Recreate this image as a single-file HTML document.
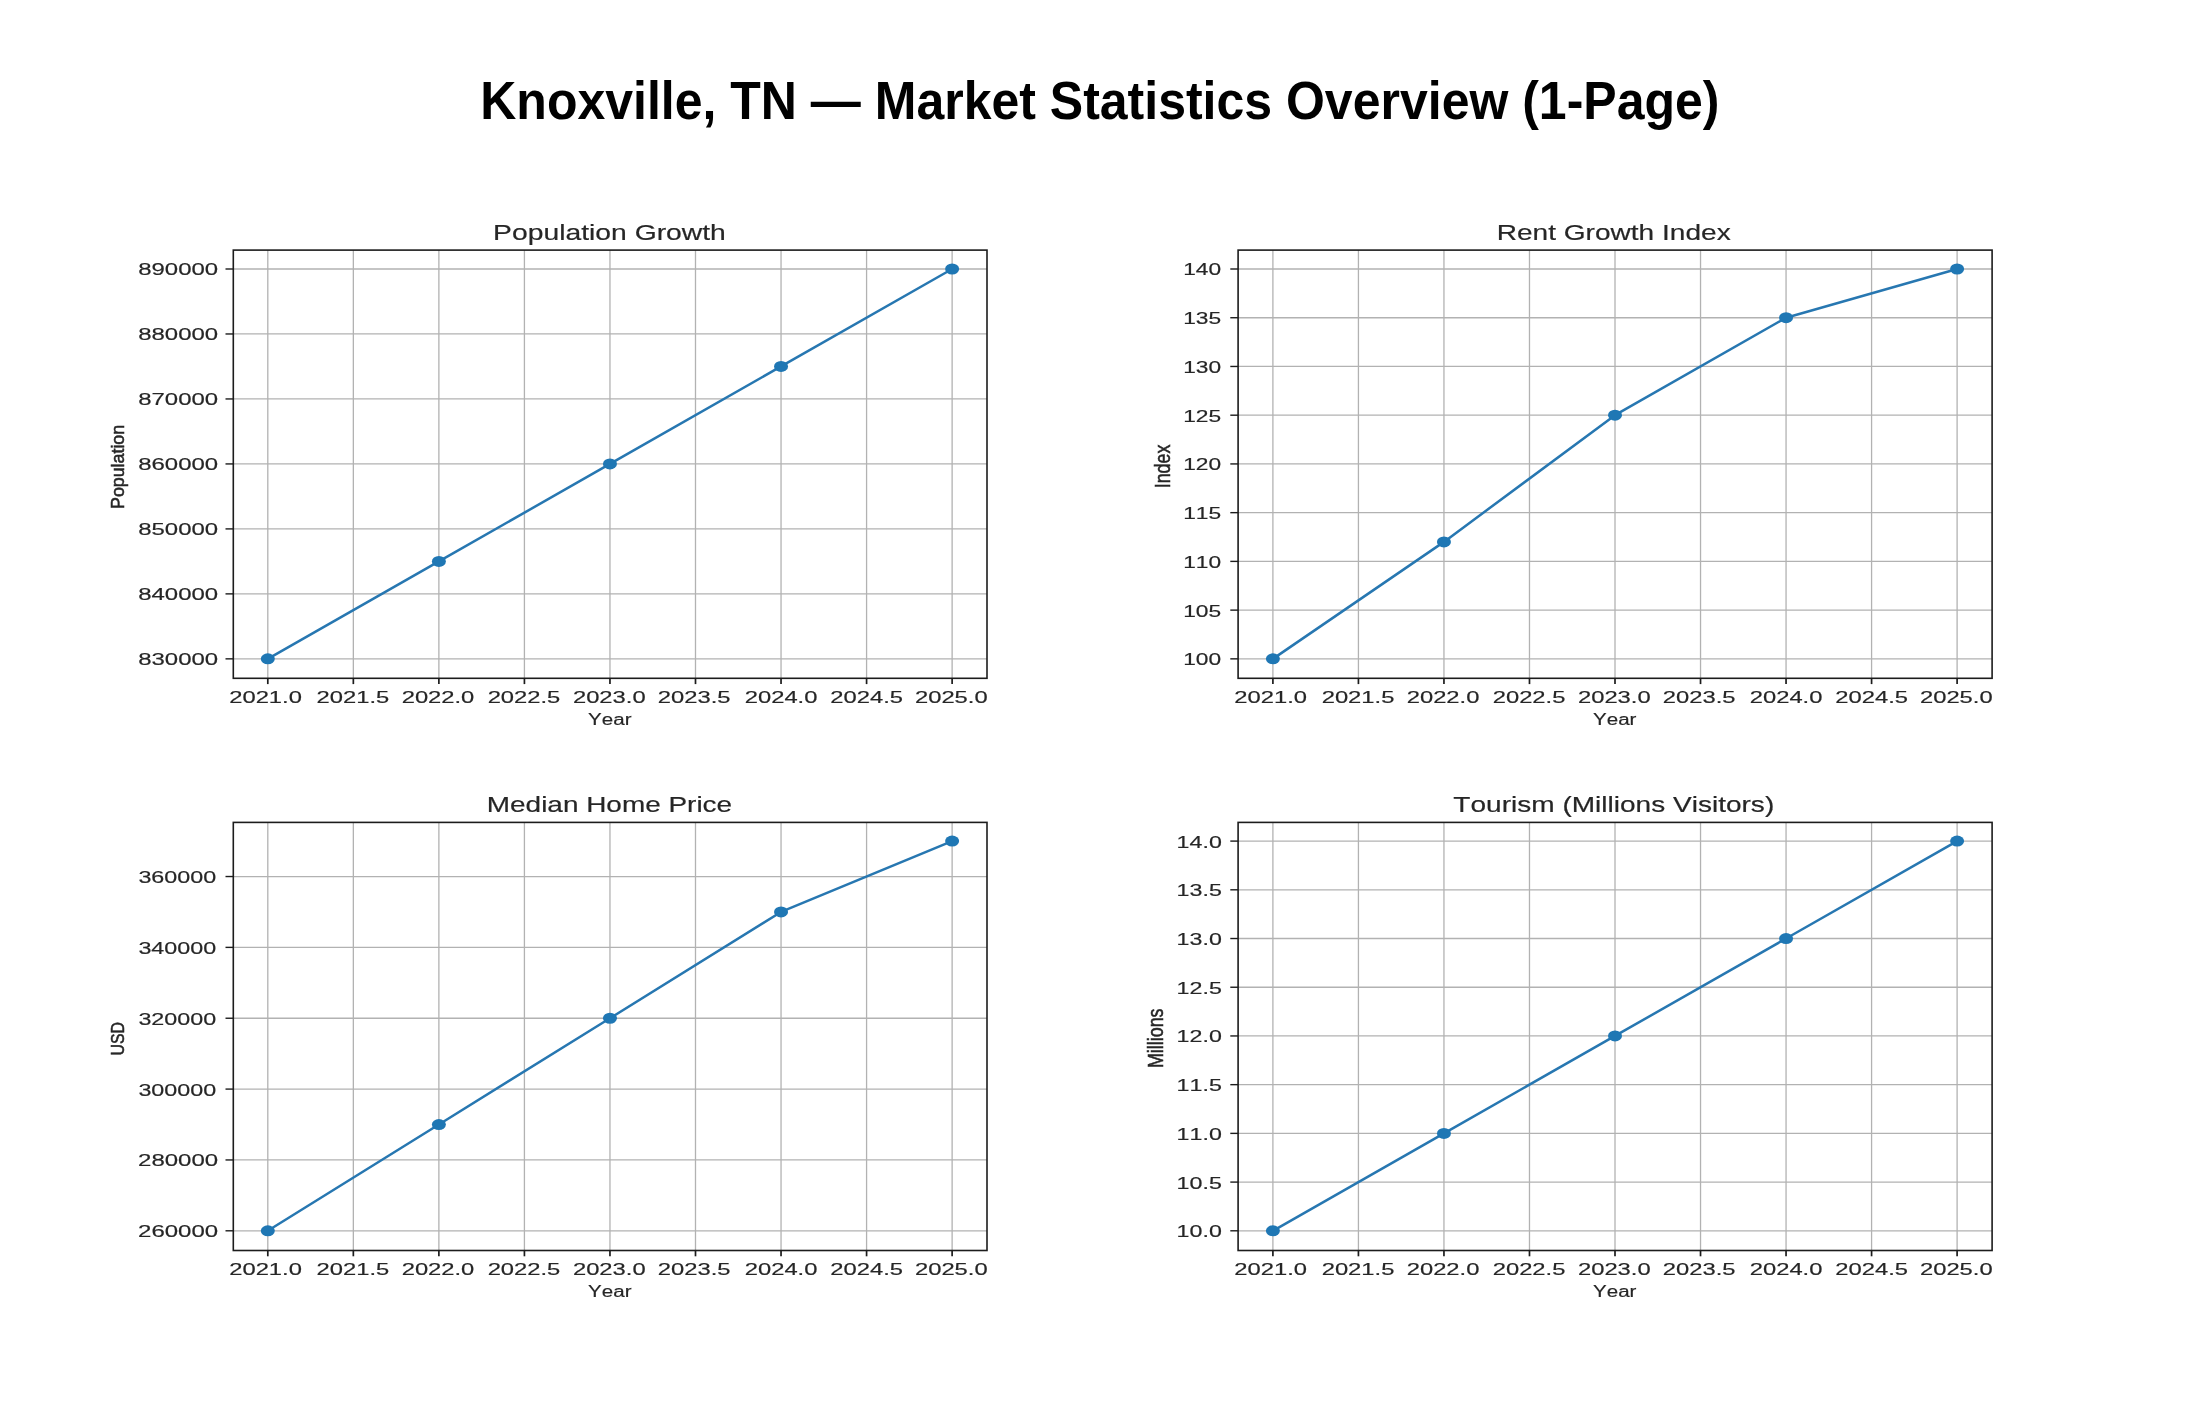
<!DOCTYPE html>
<html><head><meta charset="utf-8"><style>
html,body{margin:0;padding:0;background:#fff;width:2200px;height:1410px;overflow:hidden}
svg{position:absolute;left:0;top:0;display:block;will-change:transform}
text{font-family:"Liberation Sans",sans-serif;font-kerning:none}
</style></head><body>
<svg width="2200" height="1410" viewBox="0 0 2200 1410">
<rect width="2200" height="1410" fill="#fff"/>
<line x1="267.80" y1="250.10" x2="267.80" y2="678.30" stroke="#b2b2b2" stroke-width="1.3"/>
<line x1="353.34" y1="250.10" x2="353.34" y2="678.30" stroke="#b2b2b2" stroke-width="1.3"/>
<line x1="438.88" y1="250.10" x2="438.88" y2="678.30" stroke="#b2b2b2" stroke-width="1.3"/>
<line x1="524.42" y1="250.10" x2="524.42" y2="678.30" stroke="#b2b2b2" stroke-width="1.3"/>
<line x1="609.96" y1="250.10" x2="609.96" y2="678.30" stroke="#b2b2b2" stroke-width="1.3"/>
<line x1="695.50" y1="250.10" x2="695.50" y2="678.30" stroke="#b2b2b2" stroke-width="1.3"/>
<line x1="781.04" y1="250.10" x2="781.04" y2="678.30" stroke="#b2b2b2" stroke-width="1.3"/>
<line x1="866.58" y1="250.10" x2="866.58" y2="678.30" stroke="#b2b2b2" stroke-width="1.3"/>
<line x1="952.12" y1="250.10" x2="952.12" y2="678.30" stroke="#b2b2b2" stroke-width="1.3"/>
<line x1="233.30" y1="658.85" x2="987.00" y2="658.85" stroke="#b2b2b2" stroke-width="1.3"/>
<line x1="233.30" y1="593.88" x2="987.00" y2="593.88" stroke="#b2b2b2" stroke-width="1.3"/>
<line x1="233.30" y1="528.90" x2="987.00" y2="528.90" stroke="#b2b2b2" stroke-width="1.3"/>
<line x1="233.30" y1="463.93" x2="987.00" y2="463.93" stroke="#b2b2b2" stroke-width="1.3"/>
<line x1="233.30" y1="398.95" x2="987.00" y2="398.95" stroke="#b2b2b2" stroke-width="1.3"/>
<line x1="233.30" y1="333.97" x2="987.00" y2="333.97" stroke="#b2b2b2" stroke-width="1.3"/>
<line x1="233.30" y1="269.00" x2="987.00" y2="269.00" stroke="#b2b2b2" stroke-width="1.3"/>
<polyline points="267.80,658.85 438.88,561.39 609.96,463.93 781.04,366.46 952.12,269.00" fill="none" stroke="#2777b1" stroke-width="2.5" stroke-linejoin="round"/>
<ellipse cx="267.80" cy="658.85" rx="7.0" ry="5.5" fill="#1f77b4"/>
<ellipse cx="438.88" cy="561.39" rx="7.0" ry="5.5" fill="#1f77b4"/>
<ellipse cx="609.96" cy="463.93" rx="7.0" ry="5.5" fill="#1f77b4"/>
<ellipse cx="781.04" cy="366.46" rx="7.0" ry="5.5" fill="#1f77b4"/>
<ellipse cx="952.12" cy="269.00" rx="7.0" ry="5.5" fill="#1f77b4"/>
<rect x="233.30" y="250.10" width="753.70" height="428.20" fill="none" stroke="#1c1c1c" stroke-width="1.6"/>
<line x1="267.80" y1="678.30" x2="267.80" y2="684.10" stroke="#1c1c1c" stroke-width="1.7"/>
<line x1="353.34" y1="678.30" x2="353.34" y2="684.10" stroke="#1c1c1c" stroke-width="1.7"/>
<line x1="438.88" y1="678.30" x2="438.88" y2="684.10" stroke="#1c1c1c" stroke-width="1.7"/>
<line x1="524.42" y1="678.30" x2="524.42" y2="684.10" stroke="#1c1c1c" stroke-width="1.7"/>
<line x1="609.96" y1="678.30" x2="609.96" y2="684.10" stroke="#1c1c1c" stroke-width="1.7"/>
<line x1="695.50" y1="678.30" x2="695.50" y2="684.10" stroke="#1c1c1c" stroke-width="1.7"/>
<line x1="781.04" y1="678.30" x2="781.04" y2="684.10" stroke="#1c1c1c" stroke-width="1.7"/>
<line x1="866.58" y1="678.30" x2="866.58" y2="684.10" stroke="#1c1c1c" stroke-width="1.7"/>
<line x1="952.12" y1="678.30" x2="952.12" y2="684.10" stroke="#1c1c1c" stroke-width="1.7"/>
<line x1="225.50" y1="658.85" x2="233.30" y2="658.85" stroke="#1c1c1c" stroke-width="1.4"/>
<line x1="225.50" y1="593.88" x2="233.30" y2="593.88" stroke="#1c1c1c" stroke-width="1.4"/>
<line x1="225.50" y1="528.90" x2="233.30" y2="528.90" stroke="#1c1c1c" stroke-width="1.4"/>
<line x1="225.50" y1="463.93" x2="233.30" y2="463.93" stroke="#1c1c1c" stroke-width="1.4"/>
<line x1="225.50" y1="398.95" x2="233.30" y2="398.95" stroke="#1c1c1c" stroke-width="1.4"/>
<line x1="225.50" y1="333.97" x2="233.30" y2="333.97" stroke="#1c1c1c" stroke-width="1.4"/>
<line x1="225.50" y1="269.00" x2="233.30" y2="269.00" stroke="#1c1c1c" stroke-width="1.4"/>
<line x1="1272.90" y1="250.10" x2="1272.90" y2="678.30" stroke="#b2b2b2" stroke-width="1.3"/>
<line x1="1358.43" y1="250.10" x2="1358.43" y2="678.30" stroke="#b2b2b2" stroke-width="1.3"/>
<line x1="1443.95" y1="250.10" x2="1443.95" y2="678.30" stroke="#b2b2b2" stroke-width="1.3"/>
<line x1="1529.48" y1="250.10" x2="1529.48" y2="678.30" stroke="#b2b2b2" stroke-width="1.3"/>
<line x1="1615.00" y1="250.10" x2="1615.00" y2="678.30" stroke="#b2b2b2" stroke-width="1.3"/>
<line x1="1700.53" y1="250.10" x2="1700.53" y2="678.30" stroke="#b2b2b2" stroke-width="1.3"/>
<line x1="1786.05" y1="250.10" x2="1786.05" y2="678.30" stroke="#b2b2b2" stroke-width="1.3"/>
<line x1="1871.58" y1="250.10" x2="1871.58" y2="678.30" stroke="#b2b2b2" stroke-width="1.3"/>
<line x1="1957.10" y1="250.10" x2="1957.10" y2="678.30" stroke="#b2b2b2" stroke-width="1.3"/>
<line x1="1238.10" y1="658.85" x2="1992.10" y2="658.85" stroke="#b2b2b2" stroke-width="1.3"/>
<line x1="1238.10" y1="610.12" x2="1992.10" y2="610.12" stroke="#b2b2b2" stroke-width="1.3"/>
<line x1="1238.10" y1="561.39" x2="1992.10" y2="561.39" stroke="#b2b2b2" stroke-width="1.3"/>
<line x1="1238.10" y1="512.66" x2="1992.10" y2="512.66" stroke="#b2b2b2" stroke-width="1.3"/>
<line x1="1238.10" y1="463.93" x2="1992.10" y2="463.93" stroke="#b2b2b2" stroke-width="1.3"/>
<line x1="1238.10" y1="415.19" x2="1992.10" y2="415.19" stroke="#b2b2b2" stroke-width="1.3"/>
<line x1="1238.10" y1="366.46" x2="1992.10" y2="366.46" stroke="#b2b2b2" stroke-width="1.3"/>
<line x1="1238.10" y1="317.73" x2="1992.10" y2="317.73" stroke="#b2b2b2" stroke-width="1.3"/>
<line x1="1238.10" y1="269.00" x2="1992.10" y2="269.00" stroke="#b2b2b2" stroke-width="1.3"/>
<polyline points="1272.90,658.85 1443.95,541.89 1615.00,415.19 1786.05,317.73 1957.10,269.00" fill="none" stroke="#2777b1" stroke-width="2.5" stroke-linejoin="round"/>
<ellipse cx="1272.90" cy="658.85" rx="7.0" ry="5.5" fill="#1f77b4"/>
<ellipse cx="1443.95" cy="541.89" rx="7.0" ry="5.5" fill="#1f77b4"/>
<ellipse cx="1615.00" cy="415.19" rx="7.0" ry="5.5" fill="#1f77b4"/>
<ellipse cx="1786.05" cy="317.73" rx="7.0" ry="5.5" fill="#1f77b4"/>
<ellipse cx="1957.10" cy="269.00" rx="7.0" ry="5.5" fill="#1f77b4"/>
<rect x="1238.10" y="250.10" width="754.00" height="428.20" fill="none" stroke="#1c1c1c" stroke-width="1.6"/>
<line x1="1272.90" y1="678.30" x2="1272.90" y2="684.10" stroke="#1c1c1c" stroke-width="1.7"/>
<line x1="1358.43" y1="678.30" x2="1358.43" y2="684.10" stroke="#1c1c1c" stroke-width="1.7"/>
<line x1="1443.95" y1="678.30" x2="1443.95" y2="684.10" stroke="#1c1c1c" stroke-width="1.7"/>
<line x1="1529.48" y1="678.30" x2="1529.48" y2="684.10" stroke="#1c1c1c" stroke-width="1.7"/>
<line x1="1615.00" y1="678.30" x2="1615.00" y2="684.10" stroke="#1c1c1c" stroke-width="1.7"/>
<line x1="1700.53" y1="678.30" x2="1700.53" y2="684.10" stroke="#1c1c1c" stroke-width="1.7"/>
<line x1="1786.05" y1="678.30" x2="1786.05" y2="684.10" stroke="#1c1c1c" stroke-width="1.7"/>
<line x1="1871.58" y1="678.30" x2="1871.58" y2="684.10" stroke="#1c1c1c" stroke-width="1.7"/>
<line x1="1957.10" y1="678.30" x2="1957.10" y2="684.10" stroke="#1c1c1c" stroke-width="1.7"/>
<line x1="1230.30" y1="658.85" x2="1238.10" y2="658.85" stroke="#1c1c1c" stroke-width="1.4"/>
<line x1="1230.30" y1="610.12" x2="1238.10" y2="610.12" stroke="#1c1c1c" stroke-width="1.4"/>
<line x1="1230.30" y1="561.39" x2="1238.10" y2="561.39" stroke="#1c1c1c" stroke-width="1.4"/>
<line x1="1230.30" y1="512.66" x2="1238.10" y2="512.66" stroke="#1c1c1c" stroke-width="1.4"/>
<line x1="1230.30" y1="463.93" x2="1238.10" y2="463.93" stroke="#1c1c1c" stroke-width="1.4"/>
<line x1="1230.30" y1="415.19" x2="1238.10" y2="415.19" stroke="#1c1c1c" stroke-width="1.4"/>
<line x1="1230.30" y1="366.46" x2="1238.10" y2="366.46" stroke="#1c1c1c" stroke-width="1.4"/>
<line x1="1230.30" y1="317.73" x2="1238.10" y2="317.73" stroke="#1c1c1c" stroke-width="1.4"/>
<line x1="1230.30" y1="269.00" x2="1238.10" y2="269.00" stroke="#1c1c1c" stroke-width="1.4"/>
<line x1="267.80" y1="822.40" x2="267.80" y2="1250.50" stroke="#b2b2b2" stroke-width="1.3"/>
<line x1="353.34" y1="822.40" x2="353.34" y2="1250.50" stroke="#b2b2b2" stroke-width="1.3"/>
<line x1="438.88" y1="822.40" x2="438.88" y2="1250.50" stroke="#b2b2b2" stroke-width="1.3"/>
<line x1="524.42" y1="822.40" x2="524.42" y2="1250.50" stroke="#b2b2b2" stroke-width="1.3"/>
<line x1="609.96" y1="822.40" x2="609.96" y2="1250.50" stroke="#b2b2b2" stroke-width="1.3"/>
<line x1="695.50" y1="822.40" x2="695.50" y2="1250.50" stroke="#b2b2b2" stroke-width="1.3"/>
<line x1="781.04" y1="822.40" x2="781.04" y2="1250.50" stroke="#b2b2b2" stroke-width="1.3"/>
<line x1="866.58" y1="822.40" x2="866.58" y2="1250.50" stroke="#b2b2b2" stroke-width="1.3"/>
<line x1="952.12" y1="822.40" x2="952.12" y2="1250.50" stroke="#b2b2b2" stroke-width="1.3"/>
<line x1="233.30" y1="1230.80" x2="987.00" y2="1230.80" stroke="#b2b2b2" stroke-width="1.3"/>
<line x1="233.30" y1="1159.95" x2="987.00" y2="1159.95" stroke="#b2b2b2" stroke-width="1.3"/>
<line x1="233.30" y1="1089.09" x2="987.00" y2="1089.09" stroke="#b2b2b2" stroke-width="1.3"/>
<line x1="233.30" y1="1018.24" x2="987.00" y2="1018.24" stroke="#b2b2b2" stroke-width="1.3"/>
<line x1="233.30" y1="947.38" x2="987.00" y2="947.38" stroke="#b2b2b2" stroke-width="1.3"/>
<line x1="233.30" y1="876.53" x2="987.00" y2="876.53" stroke="#b2b2b2" stroke-width="1.3"/>
<polyline points="267.80,1230.80 438.88,1124.52 609.96,1018.24 781.04,911.95 952.12,841.10" fill="none" stroke="#2777b1" stroke-width="2.5" stroke-linejoin="round"/>
<ellipse cx="267.80" cy="1230.80" rx="7.0" ry="5.5" fill="#1f77b4"/>
<ellipse cx="438.88" cy="1124.52" rx="7.0" ry="5.5" fill="#1f77b4"/>
<ellipse cx="609.96" cy="1018.24" rx="7.0" ry="5.5" fill="#1f77b4"/>
<ellipse cx="781.04" cy="911.95" rx="7.0" ry="5.5" fill="#1f77b4"/>
<ellipse cx="952.12" cy="841.10" rx="7.0" ry="5.5" fill="#1f77b4"/>
<rect x="233.30" y="822.40" width="753.70" height="428.10" fill="none" stroke="#1c1c1c" stroke-width="1.6"/>
<line x1="267.80" y1="1250.50" x2="267.80" y2="1256.30" stroke="#1c1c1c" stroke-width="1.7"/>
<line x1="353.34" y1="1250.50" x2="353.34" y2="1256.30" stroke="#1c1c1c" stroke-width="1.7"/>
<line x1="438.88" y1="1250.50" x2="438.88" y2="1256.30" stroke="#1c1c1c" stroke-width="1.7"/>
<line x1="524.42" y1="1250.50" x2="524.42" y2="1256.30" stroke="#1c1c1c" stroke-width="1.7"/>
<line x1="609.96" y1="1250.50" x2="609.96" y2="1256.30" stroke="#1c1c1c" stroke-width="1.7"/>
<line x1="695.50" y1="1250.50" x2="695.50" y2="1256.30" stroke="#1c1c1c" stroke-width="1.7"/>
<line x1="781.04" y1="1250.50" x2="781.04" y2="1256.30" stroke="#1c1c1c" stroke-width="1.7"/>
<line x1="866.58" y1="1250.50" x2="866.58" y2="1256.30" stroke="#1c1c1c" stroke-width="1.7"/>
<line x1="952.12" y1="1250.50" x2="952.12" y2="1256.30" stroke="#1c1c1c" stroke-width="1.7"/>
<line x1="225.50" y1="1230.80" x2="233.30" y2="1230.80" stroke="#1c1c1c" stroke-width="1.4"/>
<line x1="225.50" y1="1159.95" x2="233.30" y2="1159.95" stroke="#1c1c1c" stroke-width="1.4"/>
<line x1="225.50" y1="1089.09" x2="233.30" y2="1089.09" stroke="#1c1c1c" stroke-width="1.4"/>
<line x1="225.50" y1="1018.24" x2="233.30" y2="1018.24" stroke="#1c1c1c" stroke-width="1.4"/>
<line x1="225.50" y1="947.38" x2="233.30" y2="947.38" stroke="#1c1c1c" stroke-width="1.4"/>
<line x1="225.50" y1="876.53" x2="233.30" y2="876.53" stroke="#1c1c1c" stroke-width="1.4"/>
<line x1="1272.90" y1="822.40" x2="1272.90" y2="1250.50" stroke="#b2b2b2" stroke-width="1.3"/>
<line x1="1358.43" y1="822.40" x2="1358.43" y2="1250.50" stroke="#b2b2b2" stroke-width="1.3"/>
<line x1="1443.95" y1="822.40" x2="1443.95" y2="1250.50" stroke="#b2b2b2" stroke-width="1.3"/>
<line x1="1529.48" y1="822.40" x2="1529.48" y2="1250.50" stroke="#b2b2b2" stroke-width="1.3"/>
<line x1="1615.00" y1="822.40" x2="1615.00" y2="1250.50" stroke="#b2b2b2" stroke-width="1.3"/>
<line x1="1700.53" y1="822.40" x2="1700.53" y2="1250.50" stroke="#b2b2b2" stroke-width="1.3"/>
<line x1="1786.05" y1="822.40" x2="1786.05" y2="1250.50" stroke="#b2b2b2" stroke-width="1.3"/>
<line x1="1871.58" y1="822.40" x2="1871.58" y2="1250.50" stroke="#b2b2b2" stroke-width="1.3"/>
<line x1="1957.10" y1="822.40" x2="1957.10" y2="1250.50" stroke="#b2b2b2" stroke-width="1.3"/>
<line x1="1238.10" y1="1230.80" x2="1992.10" y2="1230.80" stroke="#b2b2b2" stroke-width="1.3"/>
<line x1="1238.10" y1="1182.09" x2="1992.10" y2="1182.09" stroke="#b2b2b2" stroke-width="1.3"/>
<line x1="1238.10" y1="1133.38" x2="1992.10" y2="1133.38" stroke="#b2b2b2" stroke-width="1.3"/>
<line x1="1238.10" y1="1084.66" x2="1992.10" y2="1084.66" stroke="#b2b2b2" stroke-width="1.3"/>
<line x1="1238.10" y1="1035.95" x2="1992.10" y2="1035.95" stroke="#b2b2b2" stroke-width="1.3"/>
<line x1="1238.10" y1="987.24" x2="1992.10" y2="987.24" stroke="#b2b2b2" stroke-width="1.3"/>
<line x1="1238.10" y1="938.52" x2="1992.10" y2="938.52" stroke="#b2b2b2" stroke-width="1.3"/>
<line x1="1238.10" y1="889.81" x2="1992.10" y2="889.81" stroke="#b2b2b2" stroke-width="1.3"/>
<line x1="1238.10" y1="841.10" x2="1992.10" y2="841.10" stroke="#b2b2b2" stroke-width="1.3"/>
<polyline points="1272.90,1230.80 1443.95,1133.38 1615.00,1035.95 1786.05,938.52 1957.10,841.10" fill="none" stroke="#2777b1" stroke-width="2.5" stroke-linejoin="round"/>
<ellipse cx="1272.90" cy="1230.80" rx="7.0" ry="5.5" fill="#1f77b4"/>
<ellipse cx="1443.95" cy="1133.38" rx="7.0" ry="5.5" fill="#1f77b4"/>
<ellipse cx="1615.00" cy="1035.95" rx="7.0" ry="5.5" fill="#1f77b4"/>
<ellipse cx="1786.05" cy="938.52" rx="7.0" ry="5.5" fill="#1f77b4"/>
<ellipse cx="1957.10" cy="841.10" rx="7.0" ry="5.5" fill="#1f77b4"/>
<rect x="1238.10" y="822.40" width="754.00" height="428.10" fill="none" stroke="#1c1c1c" stroke-width="1.6"/>
<line x1="1272.90" y1="1250.50" x2="1272.90" y2="1256.30" stroke="#1c1c1c" stroke-width="1.7"/>
<line x1="1358.43" y1="1250.50" x2="1358.43" y2="1256.30" stroke="#1c1c1c" stroke-width="1.7"/>
<line x1="1443.95" y1="1250.50" x2="1443.95" y2="1256.30" stroke="#1c1c1c" stroke-width="1.7"/>
<line x1="1529.48" y1="1250.50" x2="1529.48" y2="1256.30" stroke="#1c1c1c" stroke-width="1.7"/>
<line x1="1615.00" y1="1250.50" x2="1615.00" y2="1256.30" stroke="#1c1c1c" stroke-width="1.7"/>
<line x1="1700.53" y1="1250.50" x2="1700.53" y2="1256.30" stroke="#1c1c1c" stroke-width="1.7"/>
<line x1="1786.05" y1="1250.50" x2="1786.05" y2="1256.30" stroke="#1c1c1c" stroke-width="1.7"/>
<line x1="1871.58" y1="1250.50" x2="1871.58" y2="1256.30" stroke="#1c1c1c" stroke-width="1.7"/>
<line x1="1957.10" y1="1250.50" x2="1957.10" y2="1256.30" stroke="#1c1c1c" stroke-width="1.7"/>
<line x1="1230.30" y1="1230.80" x2="1238.10" y2="1230.80" stroke="#1c1c1c" stroke-width="1.4"/>
<line x1="1230.30" y1="1182.09" x2="1238.10" y2="1182.09" stroke="#1c1c1c" stroke-width="1.4"/>
<line x1="1230.30" y1="1133.38" x2="1238.10" y2="1133.38" stroke="#1c1c1c" stroke-width="1.4"/>
<line x1="1230.30" y1="1084.66" x2="1238.10" y2="1084.66" stroke="#1c1c1c" stroke-width="1.4"/>
<line x1="1230.30" y1="1035.95" x2="1238.10" y2="1035.95" stroke="#1c1c1c" stroke-width="1.4"/>
<line x1="1230.30" y1="987.24" x2="1238.10" y2="987.24" stroke="#1c1c1c" stroke-width="1.4"/>
<line x1="1230.30" y1="938.52" x2="1238.10" y2="938.52" stroke="#1c1c1c" stroke-width="1.4"/>
<line x1="1230.30" y1="889.81" x2="1238.10" y2="889.81" stroke="#1c1c1c" stroke-width="1.4"/>
<line x1="1230.30" y1="841.10" x2="1238.10" y2="841.10" stroke="#1c1c1c" stroke-width="1.4"/>
<text x="138.26" y="665.30" font-size="16.98" textLength="79.88" lengthAdjust="spacingAndGlyphs" fill="#262626" stroke="#262626" stroke-width="0.18">830000</text>
<text x="138.26" y="600.33" font-size="16.98" textLength="79.88" lengthAdjust="spacingAndGlyphs" fill="#262626" stroke="#262626" stroke-width="0.18">840000</text>
<text x="138.26" y="535.35" font-size="16.98" textLength="79.88" lengthAdjust="spacingAndGlyphs" fill="#262626" stroke="#262626" stroke-width="0.18">850000</text>
<text x="138.26" y="470.38" font-size="16.98" textLength="79.88" lengthAdjust="spacingAndGlyphs" fill="#262626" stroke="#262626" stroke-width="0.18">860000</text>
<text x="138.26" y="405.40" font-size="16.98" textLength="79.88" lengthAdjust="spacingAndGlyphs" fill="#262626" stroke="#262626" stroke-width="0.18">870000</text>
<text x="138.26" y="340.42" font-size="16.98" textLength="79.88" lengthAdjust="spacingAndGlyphs" fill="#262626" stroke="#262626" stroke-width="0.18">880000</text>
<text x="138.26" y="275.45" font-size="16.98" textLength="79.88" lengthAdjust="spacingAndGlyphs" fill="#262626" stroke="#262626" stroke-width="0.18">890000</text>
<text x="229.26" y="702.60" font-size="16.98" textLength="72.62" lengthAdjust="spacingAndGlyphs" fill="#262626" stroke="#262626" stroke-width="0.18">2021.0</text>
<text x="316.59" y="702.60" font-size="16.98" textLength="72.69" lengthAdjust="spacingAndGlyphs" fill="#262626" stroke="#262626" stroke-width="0.18">2021.5</text>
<text x="401.69" y="702.60" font-size="16.98" textLength="72.62" lengthAdjust="spacingAndGlyphs" fill="#262626" stroke="#262626" stroke-width="0.18">2022.0</text>
<text x="487.67" y="702.60" font-size="16.98" textLength="72.69" lengthAdjust="spacingAndGlyphs" fill="#262626" stroke="#262626" stroke-width="0.18">2022.5</text>
<text x="572.97" y="702.60" font-size="16.98" textLength="72.62" lengthAdjust="spacingAndGlyphs" fill="#262626" stroke="#262626" stroke-width="0.18">2023.0</text>
<text x="657.85" y="702.60" font-size="16.98" textLength="72.69" lengthAdjust="spacingAndGlyphs" fill="#262626" stroke="#262626" stroke-width="0.18">2023.5</text>
<text x="744.80" y="702.60" font-size="16.98" textLength="72.62" lengthAdjust="spacingAndGlyphs" fill="#262626" stroke="#262626" stroke-width="0.18">2024.0</text>
<text x="830.38" y="702.60" font-size="16.98" textLength="72.69" lengthAdjust="spacingAndGlyphs" fill="#262626" stroke="#262626" stroke-width="0.18">2024.5</text>
<text x="915.03" y="702.60" font-size="16.98" textLength="72.62" lengthAdjust="spacingAndGlyphs" fill="#262626" stroke="#262626" stroke-width="0.18">2025.0</text>
<text x="588.10" y="724.80" font-size="17.30" textLength="43.39" lengthAdjust="spacingAndGlyphs" fill="#262626" stroke="#262626" stroke-width="0.18">Year</text>
<text x="493.08" y="239.60" font-size="21.22" textLength="232.76" lengthAdjust="spacingAndGlyphs" fill="#262626" stroke="#262626" stroke-width="0.18">Population Growth</text>
<text transform="translate(124.30,508.96) rotate(-90)" x="0" y="0" font-size="18.08" textLength="84.12" lengthAdjust="spacingAndGlyphs" fill="#262626" stroke="#262626" stroke-width="0.55">Population</text>
<text x="1183.17" y="665.30" font-size="16.98" textLength="37.92" lengthAdjust="spacingAndGlyphs" fill="#262626" stroke="#262626" stroke-width="0.18">100</text>
<text x="1183.17" y="616.57" font-size="16.98" textLength="37.99" lengthAdjust="spacingAndGlyphs" fill="#262626" stroke="#262626" stroke-width="0.18">105</text>
<text x="1183.17" y="567.84" font-size="16.98" textLength="37.92" lengthAdjust="spacingAndGlyphs" fill="#262626" stroke="#262626" stroke-width="0.18">110</text>
<text x="1183.17" y="519.11" font-size="16.98" textLength="37.99" lengthAdjust="spacingAndGlyphs" fill="#262626" stroke="#262626" stroke-width="0.18">115</text>
<text x="1183.17" y="470.38" font-size="16.98" textLength="37.92" lengthAdjust="spacingAndGlyphs" fill="#262626" stroke="#262626" stroke-width="0.18">120</text>
<text x="1183.17" y="421.64" font-size="16.98" textLength="37.99" lengthAdjust="spacingAndGlyphs" fill="#262626" stroke="#262626" stroke-width="0.18">125</text>
<text x="1183.17" y="372.91" font-size="16.98" textLength="37.92" lengthAdjust="spacingAndGlyphs" fill="#262626" stroke="#262626" stroke-width="0.18">130</text>
<text x="1183.17" y="324.18" font-size="16.98" textLength="37.99" lengthAdjust="spacingAndGlyphs" fill="#262626" stroke="#262626" stroke-width="0.18">135</text>
<text x="1183.17" y="275.45" font-size="16.98" textLength="37.92" lengthAdjust="spacingAndGlyphs" fill="#262626" stroke="#262626" stroke-width="0.18">140</text>
<text x="1234.36" y="702.60" font-size="16.98" textLength="72.62" lengthAdjust="spacingAndGlyphs" fill="#262626" stroke="#262626" stroke-width="0.18">2021.0</text>
<text x="1321.68" y="702.60" font-size="16.98" textLength="72.69" lengthAdjust="spacingAndGlyphs" fill="#262626" stroke="#262626" stroke-width="0.18">2021.5</text>
<text x="1406.76" y="702.60" font-size="16.98" textLength="72.62" lengthAdjust="spacingAndGlyphs" fill="#262626" stroke="#262626" stroke-width="0.18">2022.0</text>
<text x="1492.73" y="702.60" font-size="16.98" textLength="72.69" lengthAdjust="spacingAndGlyphs" fill="#262626" stroke="#262626" stroke-width="0.18">2022.5</text>
<text x="1578.01" y="702.60" font-size="16.98" textLength="72.62" lengthAdjust="spacingAndGlyphs" fill="#262626" stroke="#262626" stroke-width="0.18">2023.0</text>
<text x="1662.88" y="702.60" font-size="16.98" textLength="72.69" lengthAdjust="spacingAndGlyphs" fill="#262626" stroke="#262626" stroke-width="0.18">2023.5</text>
<text x="1749.81" y="702.60" font-size="16.98" textLength="72.62" lengthAdjust="spacingAndGlyphs" fill="#262626" stroke="#262626" stroke-width="0.18">2024.0</text>
<text x="1835.38" y="702.60" font-size="16.98" textLength="72.69" lengthAdjust="spacingAndGlyphs" fill="#262626" stroke="#262626" stroke-width="0.18">2024.5</text>
<text x="1920.01" y="702.60" font-size="16.98" textLength="72.62" lengthAdjust="spacingAndGlyphs" fill="#262626" stroke="#262626" stroke-width="0.18">2025.0</text>
<text x="1593.05" y="724.80" font-size="17.30" textLength="43.39" lengthAdjust="spacingAndGlyphs" fill="#262626" stroke="#262626" stroke-width="0.18">Year</text>
<text x="1496.70" y="239.60" font-size="21.22" textLength="234.00" lengthAdjust="spacingAndGlyphs" fill="#262626" stroke="#262626" stroke-width="0.18">Rent Growth Index</text>
<text transform="translate(1170.40,488.24) rotate(-90)" x="0" y="0" font-size="21.80" textLength="43.53" lengthAdjust="spacingAndGlyphs" fill="#262626" stroke="#262626" stroke-width="0.55">Index</text>
<text x="138.09" y="1237.25" font-size="16.98" textLength="80.04" lengthAdjust="spacingAndGlyphs" fill="#262626" stroke="#262626" stroke-width="0.18">260000</text>
<text x="138.09" y="1166.40" font-size="16.98" textLength="80.04" lengthAdjust="spacingAndGlyphs" fill="#262626" stroke="#262626" stroke-width="0.18">280000</text>
<text x="138.41" y="1095.54" font-size="16.98" textLength="77.80" lengthAdjust="spacingAndGlyphs" fill="#262626" stroke="#262626" stroke-width="0.18">300000</text>
<text x="138.41" y="1024.69" font-size="16.98" textLength="77.80" lengthAdjust="spacingAndGlyphs" fill="#262626" stroke="#262626" stroke-width="0.18">320000</text>
<text x="138.41" y="953.83" font-size="16.98" textLength="77.80" lengthAdjust="spacingAndGlyphs" fill="#262626" stroke="#262626" stroke-width="0.18">340000</text>
<text x="138.41" y="882.98" font-size="16.98" textLength="77.80" lengthAdjust="spacingAndGlyphs" fill="#262626" stroke="#262626" stroke-width="0.18">360000</text>
<text x="229.26" y="1274.60" font-size="16.98" textLength="72.62" lengthAdjust="spacingAndGlyphs" fill="#262626" stroke="#262626" stroke-width="0.18">2021.0</text>
<text x="316.59" y="1274.60" font-size="16.98" textLength="72.69" lengthAdjust="spacingAndGlyphs" fill="#262626" stroke="#262626" stroke-width="0.18">2021.5</text>
<text x="401.69" y="1274.60" font-size="16.98" textLength="72.62" lengthAdjust="spacingAndGlyphs" fill="#262626" stroke="#262626" stroke-width="0.18">2022.0</text>
<text x="487.67" y="1274.60" font-size="16.98" textLength="72.69" lengthAdjust="spacingAndGlyphs" fill="#262626" stroke="#262626" stroke-width="0.18">2022.5</text>
<text x="572.97" y="1274.60" font-size="16.98" textLength="72.62" lengthAdjust="spacingAndGlyphs" fill="#262626" stroke="#262626" stroke-width="0.18">2023.0</text>
<text x="657.85" y="1274.60" font-size="16.98" textLength="72.69" lengthAdjust="spacingAndGlyphs" fill="#262626" stroke="#262626" stroke-width="0.18">2023.5</text>
<text x="744.80" y="1274.60" font-size="16.98" textLength="72.62" lengthAdjust="spacingAndGlyphs" fill="#262626" stroke="#262626" stroke-width="0.18">2024.0</text>
<text x="830.38" y="1274.60" font-size="16.98" textLength="72.69" lengthAdjust="spacingAndGlyphs" fill="#262626" stroke="#262626" stroke-width="0.18">2024.5</text>
<text x="915.03" y="1274.60" font-size="16.98" textLength="72.62" lengthAdjust="spacingAndGlyphs" fill="#262626" stroke="#262626" stroke-width="0.18">2025.0</text>
<text x="588.10" y="1296.80" font-size="17.30" textLength="43.39" lengthAdjust="spacingAndGlyphs" fill="#262626" stroke="#262626" stroke-width="0.18">Year</text>
<text x="486.81" y="811.60" font-size="21.22" textLength="245.33" lengthAdjust="spacingAndGlyphs" fill="#262626" stroke="#262626" stroke-width="0.18">Median Home Price</text>
<text transform="translate(124.20,1055.52) rotate(-90)" x="0" y="0" font-size="19.04" textLength="33.38" lengthAdjust="spacingAndGlyphs" fill="#262626" stroke="#262626" stroke-width="0.55">USD</text>
<text x="1176.63" y="1237.25" font-size="16.98" textLength="45.17" lengthAdjust="spacingAndGlyphs" fill="#262626" stroke="#262626" stroke-width="0.18">10.0</text>
<text x="1176.63" y="1188.54" font-size="16.98" textLength="45.25" lengthAdjust="spacingAndGlyphs" fill="#262626" stroke="#262626" stroke-width="0.18">10.5</text>
<text x="1176.63" y="1139.83" font-size="16.98" textLength="45.17" lengthAdjust="spacingAndGlyphs" fill="#262626" stroke="#262626" stroke-width="0.18">11.0</text>
<text x="1176.63" y="1091.11" font-size="16.98" textLength="45.25" lengthAdjust="spacingAndGlyphs" fill="#262626" stroke="#262626" stroke-width="0.18">11.5</text>
<text x="1176.63" y="1042.40" font-size="16.98" textLength="45.17" lengthAdjust="spacingAndGlyphs" fill="#262626" stroke="#262626" stroke-width="0.18">12.0</text>
<text x="1176.63" y="993.69" font-size="16.98" textLength="45.25" lengthAdjust="spacingAndGlyphs" fill="#262626" stroke="#262626" stroke-width="0.18">12.5</text>
<text x="1176.63" y="944.98" font-size="16.98" textLength="45.17" lengthAdjust="spacingAndGlyphs" fill="#262626" stroke="#262626" stroke-width="0.18">13.0</text>
<text x="1176.63" y="896.26" font-size="16.98" textLength="45.25" lengthAdjust="spacingAndGlyphs" fill="#262626" stroke="#262626" stroke-width="0.18">13.5</text>
<text x="1176.63" y="847.55" font-size="16.98" textLength="45.17" lengthAdjust="spacingAndGlyphs" fill="#262626" stroke="#262626" stroke-width="0.18">14.0</text>
<text x="1234.36" y="1274.60" font-size="16.98" textLength="72.62" lengthAdjust="spacingAndGlyphs" fill="#262626" stroke="#262626" stroke-width="0.18">2021.0</text>
<text x="1321.68" y="1274.60" font-size="16.98" textLength="72.69" lengthAdjust="spacingAndGlyphs" fill="#262626" stroke="#262626" stroke-width="0.18">2021.5</text>
<text x="1406.76" y="1274.60" font-size="16.98" textLength="72.62" lengthAdjust="spacingAndGlyphs" fill="#262626" stroke="#262626" stroke-width="0.18">2022.0</text>
<text x="1492.73" y="1274.60" font-size="16.98" textLength="72.69" lengthAdjust="spacingAndGlyphs" fill="#262626" stroke="#262626" stroke-width="0.18">2022.5</text>
<text x="1578.01" y="1274.60" font-size="16.98" textLength="72.62" lengthAdjust="spacingAndGlyphs" fill="#262626" stroke="#262626" stroke-width="0.18">2023.0</text>
<text x="1662.88" y="1274.60" font-size="16.98" textLength="72.69" lengthAdjust="spacingAndGlyphs" fill="#262626" stroke="#262626" stroke-width="0.18">2023.5</text>
<text x="1749.81" y="1274.60" font-size="16.98" textLength="72.62" lengthAdjust="spacingAndGlyphs" fill="#262626" stroke="#262626" stroke-width="0.18">2024.0</text>
<text x="1835.38" y="1274.60" font-size="16.98" textLength="72.69" lengthAdjust="spacingAndGlyphs" fill="#262626" stroke="#262626" stroke-width="0.18">2024.5</text>
<text x="1920.01" y="1274.60" font-size="16.98" textLength="72.62" lengthAdjust="spacingAndGlyphs" fill="#262626" stroke="#262626" stroke-width="0.18">2025.0</text>
<text x="1593.05" y="1296.80" font-size="17.30" textLength="43.39" lengthAdjust="spacingAndGlyphs" fill="#262626" stroke="#262626" stroke-width="0.18">Year</text>
<text x="1453.37" y="811.60" font-size="21.22" textLength="320.87" lengthAdjust="spacingAndGlyphs" fill="#262626" stroke="#262626" stroke-width="0.18">Tourism (Millions Visitors)</text>
<text transform="translate(1162.60,1068.07) rotate(-90)" x="0" y="0" font-size="22.24" textLength="59.61" lengthAdjust="spacingAndGlyphs" fill="#262626" stroke="#262626" stroke-width="0.55">Millions</text>
<text x="480.26" y="118.60" font-size="53.34" font-weight="bold" textLength="1239.23" lengthAdjust="spacingAndGlyphs" fill="#000">Knoxville, TN — Market Statistics Overview (1-Page)</text>
</svg></body></html>
